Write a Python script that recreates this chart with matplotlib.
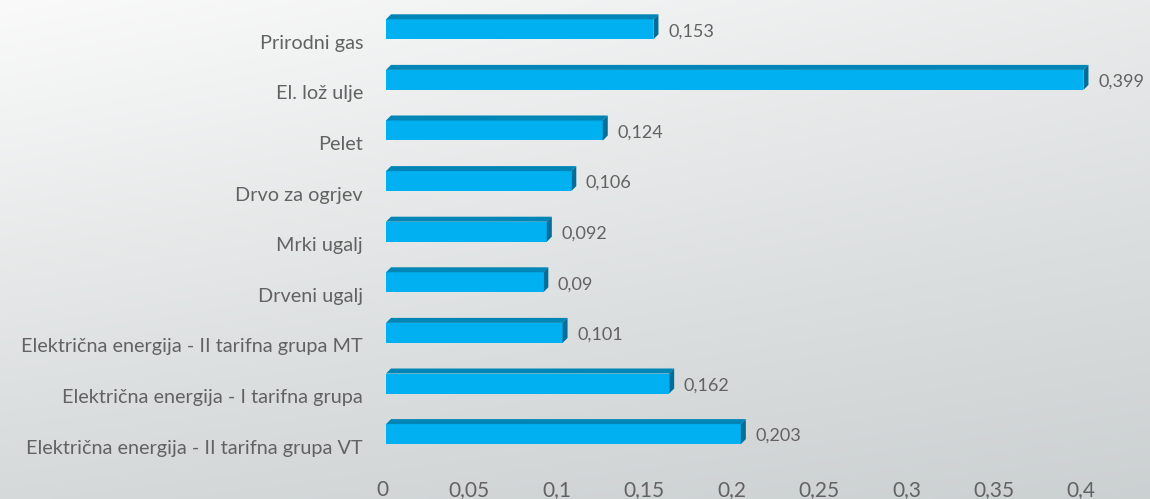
import numpy as np
import matplotlib
matplotlib.use("Agg")
import matplotlib.pyplot as plt
from matplotlib.patches import Polygon
from matplotlib.transforms import ScaledTranslation

categories = [
    "Prirodni gas",
    "El. lož ulje",
    "Pelet",
    "Drvo za ogrjev",
    "Mrki ugalj",
    "Drveni ugalj",
    "Električna energija - II tarifna grupa MT",
    "Električna energija - I tarifna grupa",
    "Električna energija - II tarifna grupa VT",
]
values = [0.153, 0.399, 0.124, 0.106, 0.092, 0.09, 0.101, 0.162, 0.203]
value_labels = ["0,153", "0,399", "0,124", "0,106", "0,092", "0,09", "0,101", "0,162", "0,203"]
xticks = [0, 0.05, 0.1, 0.15, 0.2, 0.25, 0.3, 0.35, 0.4]
xtick_labels = ["0", "0,05", "0,1", "0,15", "0,2", "0,25", "0,3", "0,35", "0,4"]

FONT = ["Lato", "DejaVu Sans"]
plt.rcParams["font.family"] = FONT

W, H, DPI = 1150, 499, 100
fig = plt.figure(figsize=(W / DPI, H / DPI), dpi=DPI)

# background gradient
bg = fig.add_axes([0, 0, 1, 1], zorder=-10)
yy, xx = np.mgrid[0:1:200j, 0:1:400j]
t = np.clip(0.75 * yy + 0.35 * xx * (0.6 + 0.4 * (1 - yy)), 0, 1)
top = np.array([0.98, 0.98, 0.98])
bot = np.array([0.79, 0.81, 0.815])
img = top[None, None, :] * (1 - t[..., None]) + bot[None, None, :] * t[..., None]
bg.imshow(img, aspect="auto", extent=[0, 1, 1, 0], interpolation="bilinear")
bg.set_axis_off()

# main axes geometry (pixels)
x0_px = 386.0
scale = 1748.0
xmax = (W - x0_px) / scale
c0, sp = 29.3, 50.6
ax_bottom_px = 478.0
ylo = (0 - c0) / sp
yhi = (ax_bottom_px - c0) / sp
ax = fig.add_axes([x0_px / W, (H - ax_bottom_px) / H, (W - x0_px) / W, ax_bottom_px / H])
ax.set_facecolor("none")
ax.set_xlim(0, xmax)
ax.set_ylim(yhi, ylo)
for s in ax.spines.values():
    s.set_visible(False)

ypos = np.arange(len(categories))
bh = 20.0 / sp
depth = 5.0

front = "#00B0F0"
topc = "#0086B6"
sidec = "#006E98"
txt = "#626262"

ax.barh(ypos, values, height=bh, color=front, edgecolor="none", zorder=3)

for i, v in enumerate(values):
    (xl, yt) = ax.transData.transform((0, i - bh / 2))
    (xr, yb) = ax.transData.transform((v, i + bh / 2))
    topface = Polygon([(xl, yt), (xr, yt), (xr + depth, yt + depth), (xl + depth, yt + depth)],
                      closed=True, transform=None, facecolor=topc, edgecolor="none", zorder=2)
    side = Polygon([(xr, yt), (xr + depth, yt + depth), (xr + depth, yb + depth), (xr, yb)],
                   closed=True, transform=None, facecolor=sidec, edgecolor="none", zorder=2)
    fig.add_artist(topface)
    fig.add_artist(side)
    ax.annotate(value_labels[i], xy=(v, i), xytext=(10.5, -1.4), textcoords="offset points",
                va="center", ha="left", fontsize=13, color=txt, zorder=4)

ax.set_yticks(ypos)
ax.set_yticklabels(categories, fontsize=14.3, color=txt)
ax.tick_params(axis="y", length=0, pad=16.5)
for lab in ax.get_yticklabels():
    lab.set_transform(lab.get_transform() + ScaledTranslation(0, -12.5 / DPI, fig.dpi_scale_trans))

ax.set_xticks(xticks)
ax.set_xticklabels(xtick_labels, fontsize=15, color=txt)
ax.tick_params(axis="x", length=0, pad=1.5)
for lab in ax.get_xticklabels():
    lab.set_transform(lab.get_transform() + ScaledTranslation(-4 / DPI, 0, fig.dpi_scale_trans))

fig.savefig("out.png", dpi=DPI)
